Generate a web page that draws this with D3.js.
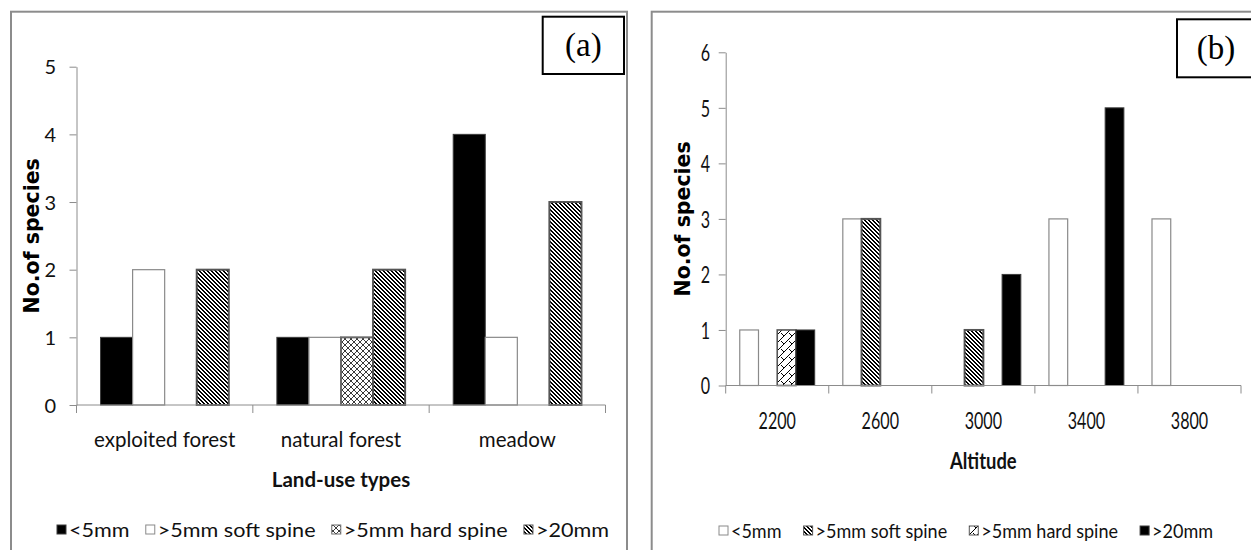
<!DOCTYPE html>
<html>
<head>
<meta charset="utf-8">
<script src="https://cdn.jsdelivr.net/npm/d3@7"></script>
<style>
  body { margin: 0; background: #fff; }
  svg { display: block; }
</style>
</head>
<body>
<svg id="fig" width="1251" height="550"></svg>
<script>
// ---- Panel (a): number of species per spine class, by land-use type
const landUseTypes = ["exploited forest", "natural forest", "meadow"];
const spineClassesA = ["<5mm", ">5mm soft spine", ">5mm hard spine", ">20mm"];
const landUseLt5  = [1, 1, 4];
const landUseSoft = [2, 1, 1];
const landUseHard = [0, 1, 0];
const landUseGt20 = [2, 2, 3];
const landUseTicks = [0, 1, 2, 3, 4, 5];

// ---- Panel (b): number of species per spine class, by altitude
const altitudes = ["2200", "2600", "3000", "3400", "3800"];
const spineClassesB = ["<5mm", ">5mm soft spine", ">5mm hard spine", ">20mm"];
const altitudeLt5  = [1, 3, 0, 3, 3];
const altitudeSoft = [0, 3, 1, 0, 0];
const altitudeHard = [1, 0, 0, 0, 0];
const altitudeGt20 = [1, 0, 2, 5, 0];
const altitudeTicks = [0, 1, 2, 3, 4, 5, 6];

const svg = d3.select("#fig");
const SANS = "Lato, 'Open Sans', sans-serif";
const AXIS_GREY = "#8c8c8c";

// ---- pixel fill patterns (tiles built from 1px cells)
const defs = svg.append("defs");
function pixelPattern(id, size, cells, ink) {
  const p = defs.append("pattern")
    .attr("id", id).attr("patternUnits", "userSpaceOnUse")
    .attr("width", size).attr("height", size);
  p.append("rect").attr("width", size).attr("height", size).attr("fill", "#fff");
  p.selectAll("rect.px").data(cells).join("rect")
    .attr("class", "px")
    .attr("x", d => d[0]).attr("y", d => d[1])
    .attr("width", 1).attr("height", 1)
    .attr("fill", ink).attr("shape-rendering", "crispEdges");
}

// wide downward diagonal: two dark pixels per row, shifting right each row
const stripeCells = [];
for (let r = 0; r < 4; r++) {
  stripeCells.push([r % 4, r], [(r + 1) % 4, r]);
}
pixelPattern("stripes", 4, stripeCells, "#000");

// diagonal crosshatch: both diagonals in a 6px cell
const crossCells = [];
for (let r = 0; r < 6; r++) {
  crossCells.push([r, r]);
  if (5 - r !== r) crossCells.push([5 - r, r]);
}
pixelPattern("crosshatch", 6, crossCells, "#3a3a3a");

// diagonal brick: rising diagonal with a falling joint from its midpoint
const brickCells = [];
for (let r = 0; r < 8; r++) brickCells.push([7 - r, r]);
for (let i = 1; i < 4; i++) brickCells.push([4 + i, 4 + i]);
pixelPattern("brick", 8, brickCells, "#000");

const FILL = {
  black:  { fill: "#000",              stroke: "#3c3c3c", sw: 1 },
  white:  { fill: "#fff",              stroke: "#8a8a8a", sw: 1.2 },
  cross:  { fill: "url(#crosshatch)",  stroke: "#6a6a6a", sw: 2 },
  stripe: { fill: "url(#stripes)",     stroke: "#555",    sw: 2 },
  brick:  { fill: "url(#brick)",       stroke: "#555",    sw: 1.6 }
};

// text that can be squeezed horizontally around its anchor point
function label(g, txt, x, y, opt) {
  const k = opt.k || 1;
  return g.append("text")
    .attr("transform", `translate(${x},${y}) scale(${k},1)`)
    .attr("text-anchor", opt.anchor || "middle")
    .attr("font-family", opt.family || SANS)
    .attr("font-size", opt.size)
    .attr("font-weight", opt.weight || "normal")
    .attr("fill", opt.color || "#111")
    .text(txt);
}

function drawPanel(cfg) {
  const g = svg.append("g");

  // panel frame
  g.append("rect")
    .attr("x", cfg.frame[0]).attr("y", cfg.frame[1])
    .attr("width", cfg.frame[2]).attr("height", cfg.frame[3])
    .attr("fill", "none").attr("stroke", AXIS_GREY).attr("stroke-width", 2);

  const x = d3.scaleBand().domain(cfg.categories).range([cfg.x0, cfg.x1]);
  const xs = d3.scaleBand().domain(cfg.series.map(s => s.name))
    .range([0, x.bandwidth()]).paddingOuter(0.75);
  const y = d3.scaleLinear().domain([0, d3.max(cfg.ticks)]).range([cfg.yBase, cfg.yTop]);

  // bars
  const rows = [];
  cfg.categories.forEach((c, i) => {
    cfg.series.forEach(s => {
      if (s.values[i] > 0) rows.push({ c, s, v: s.values[i] });
    });
  });
  g.append("g").selectAll("rect").data(rows).join("rect")
    .attr("x", d => x(d.c) + xs(d.s.name))
    .attr("y", d => y(d.v))
    .attr("width", xs.bandwidth())
    .attr("height", d => y(0) - y(d.v))
    .attr("fill", d => d.s.style.fill)
    .attr("stroke", d => d.s.style.stroke)
    .attr("stroke-width", d => d.s.style.sw);

  // y axis
  const yAxis = g.append("g")
    .attr("transform", `translate(${cfg.x0},0)`)
    .call(d3.axisLeft(y).tickValues(cfg.ticks).tickSize(7).tickSizeOuter(0).tickFormat(d3.format("d")))
    .attr("color", AXIS_GREY);
  yAxis.selectAll(".tick text")
    .attr("x", null).attr("dy", "0.36em")
    .attr("transform", `translate(${-7 - cfg.yPad},0) scale(${cfg.tickK},1)`)
    .attr("font-family", SANS).attr("font-size", cfg.tickSize).attr("fill", "#111");

  // x axis: baseline plus a tick at every category boundary
  const xAxis = g.append("g");
  xAxis.append("line")
    .attr("x1", cfg.x0).attr("x2", cfg.x1)
    .attr("y1", y(0)).attr("y2", y(0))
    .attr("stroke", AXIS_GREY);
  const edges = cfg.categories.map(c => x(c)).concat([cfg.x1]);
  xAxis.selectAll("line.edge").data(edges).join("line")
    .attr("class", "edge")
    .attr("x1", d => d).attr("x2", d => d)
    .attr("y1", y(0)).attr("y2", y(0) + 8)
    .attr("stroke", AXIS_GREY);
  cfg.categories.forEach(c => {
    label(g, c, x(c) + x.bandwidth() / 2, cfg.catY, { size: cfg.catSize, k: cfg.tickK });
  });

  // axis titles
  label(g, cfg.xTitle, (cfg.x0 + cfg.x1) / 2, cfg.xTitleY,
        { size: cfg.xTitleSize, weight: "bold", k: cfg.xTitleK });
  g.append("text")
    .attr("transform", `translate(${cfg.yTitleX},${(cfg.yBase + cfg.yTop) / 2}) rotate(-90)`)
    .attr("text-anchor", "middle").attr("dominant-baseline", "central")
    .attr("font-family", "'DejaVu Sans', Verdana, sans-serif")
    .attr("font-weight", "bold").attr("font-size", 20.5).attr("fill", "#000")
    .text("No.of species");

  // panel letter box
  g.append("rect")
    .attr("x", cfg.tag.x).attr("y", cfg.tag.y)
    .attr("width", cfg.tag.w).attr("height", cfg.tag.h)
    .attr("fill", "#fff").attr("stroke", "#000").attr("stroke-width", 2);
  g.append("text")
    .attr("x", cfg.tag.x + cfg.tag.w / 2).attr("y", cfg.tag.y + cfg.tag.h / 2)
    .attr("text-anchor", "middle").attr("dominant-baseline", "central")
    .attr("font-family", "'Liberation Serif', 'Times New Roman', serif")
    .attr("font-size", 33).attr("fill", "#000")
    .text(cfg.tag.text);

  // legend, spread evenly across its span
  const lg = g.append("g");
  const sw = cfg.legend.swatch;
  const items = cfg.series.map(s => {
    const t = label(lg, s.name, 0, cfg.legend.y, { size: cfg.legend.size, anchor: "start", k: cfg.legend.k });
    return { s, t, w: t.node().getComputedTextLength() * cfg.legend.k };
  });
  const textGap = 3;
  const used = d3.sum(items, d => sw + textGap + d.w);
  const spacing = (cfg.legend.x1 - cfg.legend.x0 - used) / (items.length - 1);
  let cx = cfg.legend.x0;
  items.forEach(d => {
    lg.append("rect")
      .attr("x", cx).attr("y", cfg.legend.y - sw - 3)
      .attr("width", sw).attr("height", sw)
      .attr("fill", d.s.style.fill).attr("stroke", d.s.style.stroke).attr("stroke-width", 1);
    d.t.attr("transform", `translate(${cx + sw + textGap},${cfg.legend.y}) scale(${cfg.legend.k},1)`);
    cx += sw + textGap + d.w + spacing;
  });
}

drawPanel({
  frame: [11, 11.7, 616, 580],
  categories: landUseTypes,
  series: [
    { name: spineClassesA[0], values: landUseLt5,  style: FILL.black },
    { name: spineClassesA[1], values: landUseSoft, style: FILL.white },
    { name: spineClassesA[2], values: landUseHard, style: FILL.cross },
    { name: spineClassesA[3], values: landUseGt20, style: FILL.stripe }
  ],
  ticks: landUseTicks,
  x0: 76.5, x1: 605.5, yBase: 405, yTop: 66.7,
  yPad: 13.5, tickSize: 20, tickK: 1, catSize: 20.5, catY: 446.5,
  xTitle: "Land-use types", xTitleY: 486.5, xTitleSize: 20.5, xTitleK: 1,
  yTitleX: 31.5,
  tag: { x: 542.7, y: 16.7, w: 81.3, h: 57.3, text: "(a)" },
  legend: { x0: 57, x1: 609, y: 537, size: 20, k: 1.08, swatch: 9 }
});

drawPanel({
  frame: [651.7, 11.7, 640, 580],
  categories: altitudes,
  series: [
    { name: spineClassesB[0], values: altitudeLt5,  style: FILL.white },
    { name: spineClassesB[1], values: altitudeSoft, style: FILL.stripe },
    { name: spineClassesB[2], values: altitudeHard, style: FILL.brick },
    { name: spineClassesB[3], values: altitudeGt20, style: FILL.black }
  ],
  ticks: altitudeTicks,
  x0: 725.7, x1: 1241, yBase: 385.5, yTop: 52.3,
  yPad: 8.5, tickSize: 23, tickK: 0.7, catSize: 23, catY: 428.5,
  xTitle: "Altitude", xTitleY: 469, xTitleSize: 23, xTitleK: 0.8,
  yTitleX: 683,
  tag: { x: 1177, y: 19.3, w: 78, h: 58, text: "(b)" },
  legend: { x0: 719, x1: 1213, y: 538, size: 20, k: 0.9, swatch: 9 }
});
</script>
</body>
</html>
